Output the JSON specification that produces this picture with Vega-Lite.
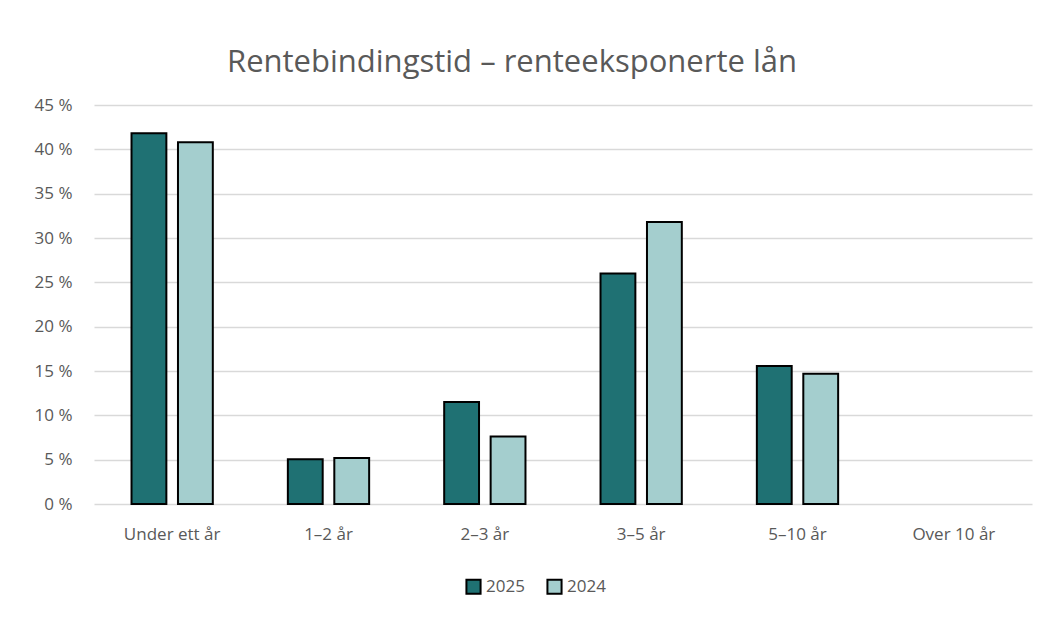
{
  "$schema": "https://vega.github.io/schema/vega-lite/v6.json",
  "width": 938,
  "height": 399,
  "autosize": {"type": "none"},
  "padding": {"left": 94, "top": 105, "right": 21, "bottom": 114},
  "background": "white",
  "title": {
    "text": "Rentebindingstid – renteeksponerte lån",
    "fontSize": 31,
    "font": "Open Sans",
    "fontWeight": "normal",
    "color": "#595959",
    "anchor": "middle",
    "frame": "group",
    "dx": -51,
    "offset": 17
  },
  "data": {
    "values": [
      {"kategori": "Under ett år", "år": "2025", "andel": 41.8},
      {"kategori": "Under ett år", "år": "2024", "andel": 40.8},
      {"kategori": "1–2 år", "år": "2025", "andel": 5.05},
      {"kategori": "1–2 år", "år": "2024", "andel": 5.2},
      {"kategori": "2–3 år", "år": "2025", "andel": 11.5},
      {"kategori": "2–3 år", "år": "2024", "andel": 7.6},
      {"kategori": "3–5 år", "år": "2025", "andel": 26.0},
      {"kategori": "3–5 år", "år": "2024", "andel": 31.8},
      {"kategori": "5–10 år", "år": "2025", "andel": 15.55},
      {"kategori": "5–10 år", "år": "2024", "andel": 14.7},
      {"kategori": "Over 10 år", "år": "2025", "andel": 0},
      {"kategori": "Over 10 år", "år": "2024", "andel": 0}
    ]
  },
  "mark": {"type": "bar", "stroke": "black", "strokeWidth": 2},
  "encoding": {
    "x": {
      "field": "kategori",
      "type": "nominal",
      "sort": ["Under ett år", "1–2 år", "2–3 år", "3–5 år", "5–10 år", "Over 10 år"],
      "scale": {"paddingInner": 0.48, "paddingOuter": 0.24},
      "axis": {
        "title": null,
        "labelAngle": 0,
        "ticks": false,
        "domain": false,
        "labelFont": "Open Sans",
        "labelFontSize": 17,
        "labelColor": "#595959",
        "labelPadding": 22
      }
    },
    "xOffset": {
      "field": "år",
      "type": "nominal",
      "sort": ["2025", "2024"],
      "scale": {"paddingInner": 0.25, "paddingOuter": 0}
    },
    "y": {
      "field": "andel",
      "type": "quantitative",
      "scale": {"domain": [0, 45], "nice": false},
      "axis": {
        "title": null,
        "values": [0, 5, 10, 15, 20, 25, 30, 35, 40, 45],
        "labelExpr": "datum.value + ' %'",
        "ticks": false,
        "domain": false,
        "grid": true,
        "gridColor": "#d9d9d9",
        "gridWidth": 1.5,
        "labelFont": "Open Sans",
        "labelFontSize": 17,
        "labelColor": "#595959",
        "labelPadding": 22
      }
    },
    "strokeOpacity": {
      "condition": {"test": "datum.andel == 0", "value": 0},
      "value": 1
    },
    "color": {
      "field": "år",
      "type": "nominal",
      "sort": ["2025", "2024"],
      "scale": {"domain": ["2025", "2024"], "range": ["#1f7173", "#a4cece"]},
      "legend": {
        "title": null,
        "orient": "none",
        "legendX": 371,
        "legendY": 473,
        "direction": "horizontal",
        "symbolType": "square",
        "symbolSize": 200,
        "symbolStrokeColor": "black",
        "symbolStrokeWidth": 2,
        "labelFont": "Open Sans",
        "labelFontSize": 17,
        "labelColor": "#595959",
        "columnPadding": 18,
        "labelOffset": 4
      }
    }
  },
  "config": {"view": {"stroke": null}}
}
